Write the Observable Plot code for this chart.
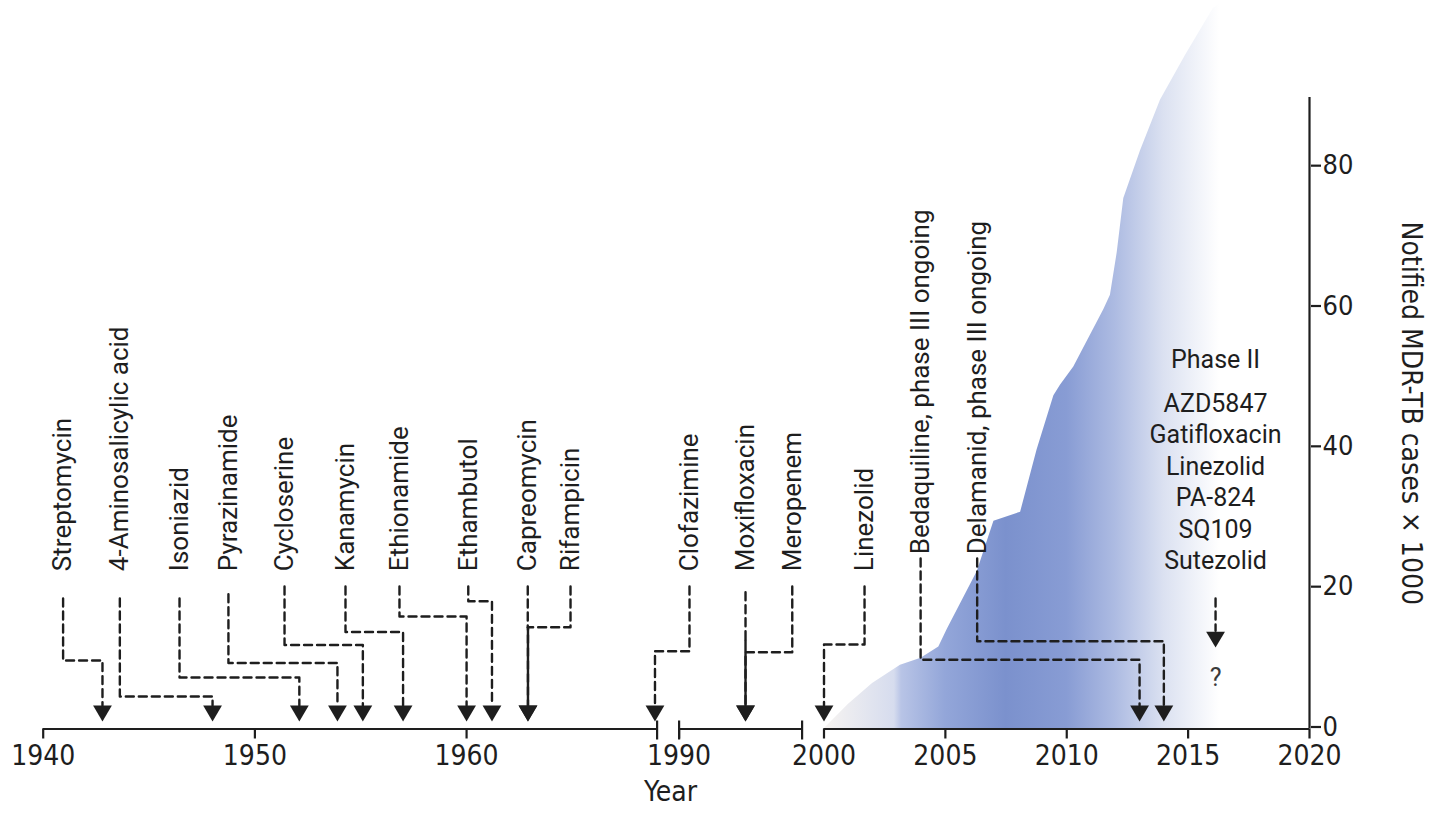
<!DOCTYPE html>
<html><head><meta charset="utf-8">
<script src="https://cdn.jsdelivr.net/npm/d3@7"></script>
<script src="https://cdn.jsdelivr.net/npm/@observablehq/plot@0.6"></script>
<style>html,body{margin:0;padding:0;background:#fff;}</style>
</head><body><div id="chart"></div>
<script>
// ---- Data ----
const drugNames = ["Streptomycin","4-Aminosalicylic acid","Isoniazid","Pyrazinamide","Cycloserine","Kanamycin","Ethionamide","Ethambutol","Capreomycin","Rifampicin","Clofazimine","Moxifloxacin","Meropenem","Linezolid","Bedaquiline, phase III ongoing","Delamanid, phase III ongoing"];
const labelYears = [1940.94,1943.62,1946.44,1948.75,1951.40,1954.28,1956.83,1960.08,1962.89,1964.91,1990.76,1994.86,1998.28,2001.67,2003.98,2006.31];
const arrowYears = [1942.8,1948.0,1952.1,1953.9,1955.1,1957.0,1960.0,1961.2,1962.9,1962.9,1968.9,1994.86,1994.86,2000,2013,2014];
const elbowLevels = [9.76,4.63,7.34,9.41,11.97,13.82,16.03,18.21,14.51,14.51,11.09,12.61,10.94,12.04,9.86,12.51];
const labelBase = [22.5,22.5,22.5,22.5,22.5,22.5,22.5,22.5,22.5,22.5,22.5,22.5,22.5,22.5,24.9,24.9];
const dashStart = [18.6,18.6,18.6,19.2,20.3,20.3,20.3,20.3,20.3,20.3,20.3,19.5,20.3,20.3,24.3,24.3];
const solidStem = [false,false,false,false,false,false,false,false,true,false,false,true,false,false,false,false];

const phase2Title = "Phase II";
const phase2Drugs = ["AZD5847","Gatifloxacin","Linezolid","PA-824","SQ109","Sutezolid"];
const phase2Year = 2016.13;

const caseYears = [2000,2001,2002,2003.15,2004,2004.73,2005.08,2005.62,2006.31,2007.0,2008.1,2008.78,2009.47,2009.74,2010.29,2011.53,2011.8,2012.08,2012.35,2013.04,2013.86,2014.89,2016.04,2016.6];
const cases = [0,3.5,6.5,9.1,10.1,11.7,14.2,17.8,22.4,29.6,30.9,39.8,47.5,49.0,51.6,59.8,61.8,67.9,75.6,82.4,89.6,96.0,102.7,104];

const xTicks = [1940,1950,1960,1990,2000,2005,2010,2015,2020];
const yTicks = [0,20,40,60,80];
const axisSegments = [[1940,1969],[1990,1999],[2000,2020]];
const breakTicks = [1969,1990,1999];

const gradYears = [2000,2002.9,2003.2,2005,2007.5,2010,2012,2014,2016.3];
const gradColors = ["#f7f4f1","#d6dcee","#b8c4e6","#93a6d9","#7b91cd","#889cd4","#adbbe2","#dbe1f1","#ffffff"];

// ---- Helpers ----
const ink = "#1e1e1e";
const arrowTop = 3.35;
const conDashed = [], conSolid = [];
drugNames.forEach((n, i) => {
  if (solidStem[i]) {
    conDashed.push({k: n, x: labelYears[i], y: dashStart[i]}, {k: n, x: labelYears[i], y: elbowLevels[i]});
    conSolid.push({k: n, x: arrowYears[i], y: elbowLevels[i]}, {k: n, x: arrowYears[i], y: arrowTop});
  } else {
    conDashed.push({k: n, x: labelYears[i], y: dashStart[i]}, {k: n, x: labelYears[i], y: elbowLevels[i]},
                   {k: n, x: arrowYears[i], y: elbowLevels[i]}, {k: n, x: arrowYears[i], y: arrowTop});
  }
});
conDashed.push({k: "p2", x: phase2Year, y: 18.6}, {k: "p2", x: phase2Year, y: 14.0});

const downTriangle = {draw(ctx, size) { const s = Math.sqrt(size); ctx.moveTo(-0.53*s, -0.9*s); ctx.lineTo(0.53*s, -0.9*s); ctx.lineTo(0, 0); ctx.closePath(); }};

function gradientDefs(index, scales, values, dimensions, context) {
  const ns = "http://www.w3.org/2000/svg";
  const doc = context.document;
  const defs = doc.createElementNS(ns, "defs");
  const lg = doc.createElementNS(ns, "linearGradient");
  lg.setAttribute("id", "mdrGrad");
  lg.setAttribute("gradientUnits", "userSpaceOnUse");
  const x0 = scales.x(gradYears[0]), x1 = scales.x(gradYears[gradYears.length - 1]);
  lg.setAttribute("x1", x0); lg.setAttribute("x2", x1); lg.setAttribute("y1", 0); lg.setAttribute("y2", 0);
  gradYears.forEach((yr, i) => {
    const s = doc.createElementNS(ns, "stop");
    s.setAttribute("offset", (scales.x(yr) - x0) / (x1 - x0));
    s.setAttribute("stop-color", gradColors[i]);
    lg.appendChild(s);
  });
  defs.appendChild(lg);
  return defs;
}

const textFont = "Roboto, 'Noto Sans', sans-serif";
const axisFont = "'Liberation Sans Narrow', 'DejaVu Sans Condensed', 'Roboto', sans-serif";

const chart = Plot.plot({
  width: 1431, height: 818,
  marginTop: 97, marginBottom: 89.5, marginLeft: 30, marginRight: 121,
  style: {background: "transparent", color: ink},
  x: {type: "linear", domain: [1940,1969,1990,1999,2000,2020], range: [42.7,656.6,678.6,801.6,823.5,1309]},
  y: {domain: [0, 90]},
  marks: [
    gradientDefs,
    Plot.areaY(caseYears.map((yr, i) => ({yr, v: cases[i]})), {x: "yr", y: "v", fill: "url(#mdrGrad)", curve: "linear"}),
    Plot.ruleY(axisSegments, {x1: d => d[0], x2: d => d[1], y: 0, stroke: ink, strokeWidth: 2.2}),
    Plot.ruleX(breakTicks, {x: d => d, y1: 0, y2: 0, insetTop: -8, insetBottom: -11, stroke: ink, strokeWidth: 2.2}),
    Plot.ruleX([2020], {y1: 0, y2: 90, stroke: ink, strokeWidth: 2.2}),
    Plot.axisX({ticks: xTicks, tickSize: 10, tickPadding: 6, tickFormat: d => String(d), fontSize: 28, fontFamily: axisFont, strokeWidth: 2.2, label: null}),
    Plot.axisY({anchor: "right", ticks: yTicks, tickSize: 10, tickPadding: 2, fontSize: 27, dy: -2, fontFamily: axisFont, strokeWidth: 2.2, label: null}),
    Plot.text(["Year"], {frameAnchor: "bottom", dy: 72, fontSize: 28, fontFamily: axisFont, fill: ink}),
    Plot.text(["Notified MDR-TB cases \u00d7 1000"], {frameAnchor: "right", textAnchor: "middle", dx: 100, rotate: 90, fontSize: 28, fontFamily: axisFont, fill: ink}),
    Plot.line(conDashed, {x: "x", y: "y", z: "k", stroke: ink, strokeWidth: 2.4, strokeDasharray: "8,5", curve: "linear"}),
    Plot.line(conSolid, {x: "x", y: "y", z: "k", stroke: ink, strokeWidth: 2.4, curve: "linear"}),
    Plot.dot(arrowYears, {x: d => d, y: 0, symbol: downTriangle, r: 10, fill: ink, stroke: "none", dy: -7.5}),
    Plot.dot([phase2Year], {x: d => d, y: 11.6, symbol: downTriangle, r: 10, fill: ink, stroke: "none"}),
    Plot.text(drugNames, {x: (d, i) => labelYears[i], y: (d, i) => labelBase[i], text: d => d, rotate: -90, textAnchor: "start", fontSize: 26, fontFamily: textFont, fill: ink}),
    Plot.text([phase2Title], {x: phase2Year, y: 52.6, fontSize: 25, fontFamily: textFont, fill: ink}),
    Plot.text([phase2Drugs.join("\n")], {x: phase2Year, y: 35.46, lineHeight: 1.26, fontSize: 25, fontFamily: textFont, fill: ink}),
    Plot.text(["?"], {x: phase2Year, y: 7.2, fontSize: 25, fontFamily: textFont, fill: "#3a3a3a"})
  ]
});
document.getElementById("chart").appendChild(chart);
</script>
</body></html>
